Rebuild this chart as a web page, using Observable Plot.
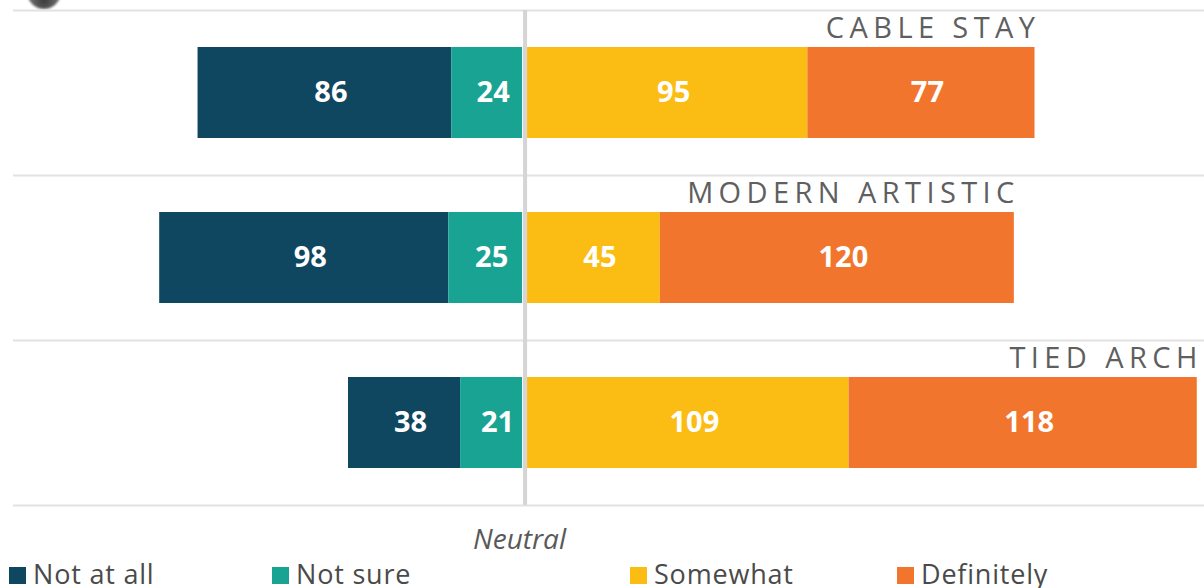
<!DOCTYPE html>
<html>
<head>
<meta charset="utf-8">
<script src="https://cdn.jsdelivr.net/npm/d3@7"></script>
<script src="https://cdn.jsdelivr.net/npm/@observablehq/plot@0.6"></script>
<style>
  html, body { margin: 0; padding: 0; background: #fff; }
  body { width: 1204px; height: 588px; position: relative; overflow: hidden; font-family: "Open Sans", Lato, sans-serif; }
  #chart { position: absolute; left: 0; top: 0; }
  #chart svg { display: block; }
  .icon { position: absolute; left: 27px; top: -25px; width: 34px; height: 34px; border-radius: 50%;
          background: radial-gradient(circle at 50% 75%, #3a3a3a 0%, #6e6e6e 45%, #bdbdbd 80%, #eeeeee 100%); filter: blur(1px); }
  .neutral { position: absolute; left: 473px; top: 524px; font-size: 28px; line-height: 28px; font-style: italic; color: #595959; white-space: nowrap; }
  .item { position: absolute; top: 560px; display: flex; align-items: flex-start; font-size: 27px; line-height: 27px; color: #4a4a4a; letter-spacing: 0.8px; white-space: nowrap; }
  .sw { width: 17px; height: 17px; margin-top: 7px; margin-right: 7px; flex: none; }
</style>
</head>
<body>
<div class="icon"></div>
<div id="chart"></div>
<div class="neutral">Neutral</div>
<div id="legend"></div>
<script>
// ---- data ----
const categories = ["CABLE STAY", "MODERN ARTISTIC", "TIED ARCH"];
const notAtAll   = [86, 98, 38];
const notSure    = [24, 25, 21];
const somewhat   = [95, 45, 109];
const definitely = [77, 120, 118];
const seriesNames  = ["Not at all", "Not sure", "Somewhat", "Definitely"];
const seriesColors = ["#0f4660", "#19a392", "#fbbd14", "#f1752d"];
const neutralLabel = "Neutral";

// ---- derived tables ----
const negRows = [], posRows = [];
categories.forEach((c, i) => {
  negRows.push({cat: c, series: seriesNames[0], value: notAtAll[i], x1: -(notAtAll[i] + notSure[i]), x2: -notSure[i]});
  negRows.push({cat: c, series: seriesNames[1], value: notSure[i], x1: -notSure[i], x2: 0});
  posRows.push({cat: c, series: seriesNames[2], value: somewhat[i], x1: 0, x2: somewhat[i]});
  posRows.push({cat: c, series: seriesNames[3], value: definitely[i], x1: somewhat[i], x2: somewhat[i] + definitely[i]});
});
const catRows = categories.map((c, i) => ({cat: c, end: somewhat[i] + definitely[i]}));

// ---- layout ----
const W = 1204, H = 515, mT = 10, mB = 10, mL = 13, mR = 0;
const step = (H - mT - mB) / categories.length;
const gap = 2.5;
const labelShift = 6;
const spacing = 5.4;

const chart = Plot.plot({
  width: W, height: H,
  marginTop: mT, marginBottom: mB, marginLeft: mL, marginRight: mR,
  style: {background: "transparent", fontFamily: "'Open Sans', Lato, sans-serif"},
  x: {domain: [-173.4, 230.3], axis: null},
  y: {domain: categories, paddingInner: 0.45, paddingOuter: 0.225, axis: null},
  color: {domain: seriesNames, range: seriesColors},
  marks: [
    Plot.ruleY(categories, {y: d => d, dy: -step / 2, stroke: "#e2e2e2", strokeWidth: 2}),
    Plot.ruleY(categories.slice(-1), {y: d => d, dy: step / 2, stroke: "#e2e2e2", strokeWidth: 2}),
    Plot.ruleX([0], {stroke: "#d5d5d5", strokeWidth: 4}),
    Plot.barX(negRows, {x1: "x1", x2: "x2", y: "cat", fill: "series", dx: -gap}),
    Plot.barX(posRows, {x1: "x1", x2: "x2", y: "cat", fill: "series", dx: gap}),
    Plot.text(negRows, {x: d => (d.x1 + d.x2) / 2, y: "cat", text: d => String(d.value), fill: "white",
      fontSize: 29, fontWeight: "bold", dx: -gap + labelShift}),
    Plot.text(posRows, {x: d => (d.x1 + d.x2) / 2, y: "cat", text: d => String(d.value), fill: "white",
      fontSize: 29, fontWeight: "bold", dx: gap + labelShift}),
    Plot.text(catRows, {x: "end", y: "cat", text: "cat", textAnchor: "end", dx: gap + spacing, dy: -64,
      fontSize: 29, fill: "#5f5f5f"})
  ]
});
d3.select(chart).selectAll("text")
  .filter(function () { return categories.includes(this.textContent); })
  .style("letter-spacing", spacing + "px");
document.getElementById("chart").appendChild(chart);

// ---- legend ----
document.querySelector(".neutral").textContent = neutralLabel;
const legendLeft = [9, 272, 630, 897];
const legend = document.getElementById("legend");
seriesNames.forEach((name, i) => {
  const item = document.createElement("div");
  item.className = "item";
  item.style.left = legendLeft[i] + "px";
  const sw = document.createElement("span");
  sw.className = "sw";
  sw.style.background = seriesColors[i];
  const t = document.createElement("span");
  t.textContent = name;
  item.appendChild(sw);
  item.appendChild(t);
  legend.appendChild(item);
});
</script>
</body>
</html>
